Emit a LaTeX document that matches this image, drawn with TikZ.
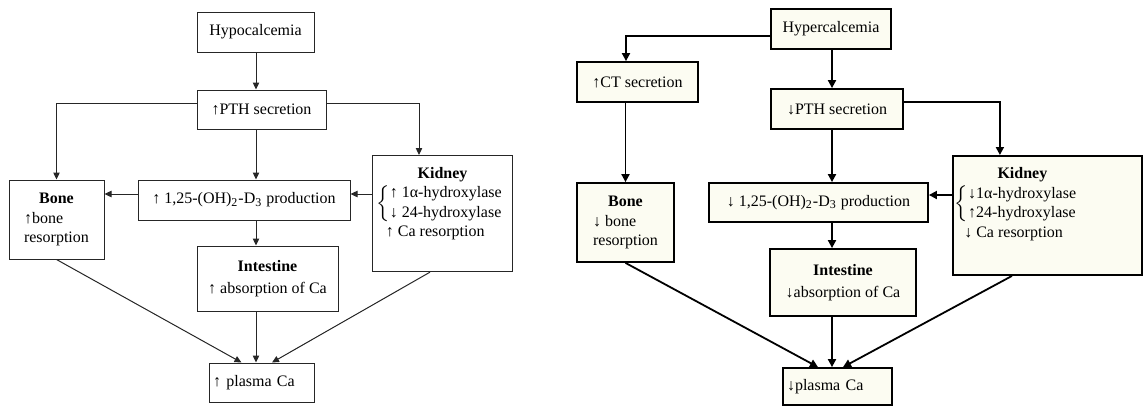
\documentclass[tikz,border=0pt]{standalone}
\usepackage{fontspec}
\setmainfont{Liberation Serif}
\usepackage{xcolor}
\usetikzlibrary{arrows.meta}
\definecolor{cream}{RGB}{252,252,242}
\newcommand{\hd}[2]{\multicolumn{1}{@{}c@{\hspace{#1}}}{\textbf{#2}}}
\newcommand{\enz}[2]{$\left\{\mbox{\begin{tabular}{@{}l@{}}#1\\#2\end{tabular}}\right.$}

\begin{document}
\begin{tikzpicture}[x=0.5pt,y=-0.5pt,font=\fontsize{8}{9.75}\selectfont,
  box/.style={draw=black!85,line width=0.5pt,fill=white,inner sep=1pt,align=center},
  hbox/.style={box,draw=black,line width=0.9pt,fill=cream},
  kbox/.style={anchor=north west,inner xsep=2pt,inner ysep=4.5pt},
  arr/.style={draw=black!85,line width=0.5pt,-{Triangle[length=3.5pt,width=3.2pt]}},
  harr/.style={arr,draw=black,line width=0.9pt,-{Triangle[length=4pt,width=4pt]}}]
  \useasboundingbox (0,0) rectangle (1145,408);
  % hypocalcemia: x and y in pixels of the figure
  \node[box,minimum width=58.5pt,minimum height=20pt] (hypo) at (255.5,32) {Hypocalcemia};
  \node[box,minimum width=64.5pt,minimum height=19.5pt] (pthL) at (261.5,109.5) {↑PTH secretion};
  \node[box,minimum width=47.5pt,minimum height=39.5pt] (boneL) at (56.5,219.5)
    {\begin{tabular}{@{}l@{}}\hd{0pt}{Bone}\\ ↑bone\\ resorption\end{tabular}};
  \node[box,minimum width=106pt,minimum height=20pt] (d3L) at (244,200)
    {↑ 1,25-(OH)\textsubscript{2}-D\textsubscript{3} production};
  \node[box,kbox] (kidL) at (372,155)
    {\begin{tabular}{@{}p{66pt}@{}}\hd{0pt}{Kidney}\\
     \enz{↑ 1α-hydroxylase}{↓ 24-hydroxylase}\\
     \hspace*{4.7pt}↑ Ca resorption\rule[-13pt]{0pt}{1pt}\end{tabular}};
  \node[box,minimum width=70.5pt,minimum height=32.5pt] (intL) at (267.5,278.5)
    {\textbf{Intestine}\\[1pt]↑ absorption of Ca};
  \node[box,text width=48.5pt,inner xsep=2pt,align=left,minimum height=19.5pt] (plasL) at (261.5,382.5)
    {↑ plasma Ca};

  \coordinate (axL) at (256,0);
  \draw[arr] (axL |- hypo.south) -- (axL |- pthL.north);
  \draw[arr] ([yshift=3.25pt]pthL.west) -| (boneL.north);
  \draw[arr] ([yshift=3.25pt]pthL.east) -| ([xshift=-11.75pt]kidL.north);
  \draw[arr] (axL |- pthL.south) -- (axL |- d3L.north);
  \coordinate (kdL) at ([yshift=3pt]d3L.east);
  \draw[arr] (kdL -| kidL.west) -- (kdL);
  \coordinate (bdL) at ([yshift=3pt]d3L.west);
  \draw[arr] (bdL) -- (bdL -| boneL.east);
  \draw[arr] (axL |- d3L.south) -- (axL |- intL.north);
  \draw[arr] (axL |- intL.south) -- (axL |- plasL.north);
  \draw[arr] (boneL.south) -- ([xshift=-10pt]plasL.north);
  \draw[arr] ([xshift=-6.25pt]kidL.south) -- ([xshift=5.25pt]plasL.north);

  % hypercalcemia
  \node[hbox,minimum width=60pt,minimum height=20pt] (hyper) at (831,29) {Hypercalcemia};
  \node[hbox,minimum width=60.5pt,minimum height=20pt] (ct) at (637.5,82) {↑CT secretion};
  \node[hbox,minimum width=66pt,minimum height=20pt] (pthR) at (837,109) {↓PTH secretion};
  \node[hbox,minimum width=48.5pt,minimum height=39.5pt] (boneR) at (625.5,222.5)
    {\begin{tabular}{@{}l@{}}\hd{0pt}{Bone}\\ ↓ bone\\ resorption\end{tabular}};
  \node[hbox,minimum width=109.5pt,minimum height=19.5pt] (d3R) at (818.5,202.5)
    {↓ 1,25-(OH)\textsubscript{2}-D\textsubscript{3} production};
  \node[hbox,kbox,inner xsep=1pt] (kidR) at (952,155)
    {\begin{tabular}{@{}p{92.5pt}@{}}\hd{25pt}{Kidney}\\
     \enz{↓1α-hydroxylase}{↑24-hydroxylase}\\
     \hspace*{4.7pt}↓ Ca resorption\rule[-14.5pt]{0pt}{1pt}\end{tabular}};
  \node[hbox,minimum width=73pt,minimum height=33.5pt] (intR) at (843,282.5)
    {\textbf{Intestine}\\[1pt]↓absorption of Ca};
  \node[hbox,text width=50.5pt,inner xsep=2pt,align=left,minimum height=18.5pt] (plasR) at (837.5,386.5)
    {↓plasma Ca};

  \coordinate (axR) at (832,0);
  \draw[harr] ([yshift=-3.5pt]hyper.west) -| ([xshift=-5.75pt]ct.north);
  \draw[harr] (axR |- hyper.south) -- (axR |- pthR.north);
  \draw[harr] ([yshift=3.5pt]pthR.east) -| ([xshift=-23.75pt]kidR.north);
  \draw[harr] (axR |- pthR.south) -- (axR |- d3R.north);
  \coordinate (kdR) at ([yshift=3.75pt]d3R.east);
  \draw[harr] (kdR -| kidR.west) -- (kdR);
  \draw[harr] (axR |- d3R.south) -- (axR |- intR.north);
  \draw[harr] (axR |- intR.south) -- (axR |- plasR.north);
  \draw[harr] (boneR.north |- ct.south) -- (boneR.north);
  \draw[harr] (boneR.south) -- ([xshift=-9.75pt]plasR.north);
  \draw[harr] ([xshift=-17.75pt]kidR.south) -- ([xshift=2.75pt]plasR.north);
\end{tikzpicture}
\end{document}
